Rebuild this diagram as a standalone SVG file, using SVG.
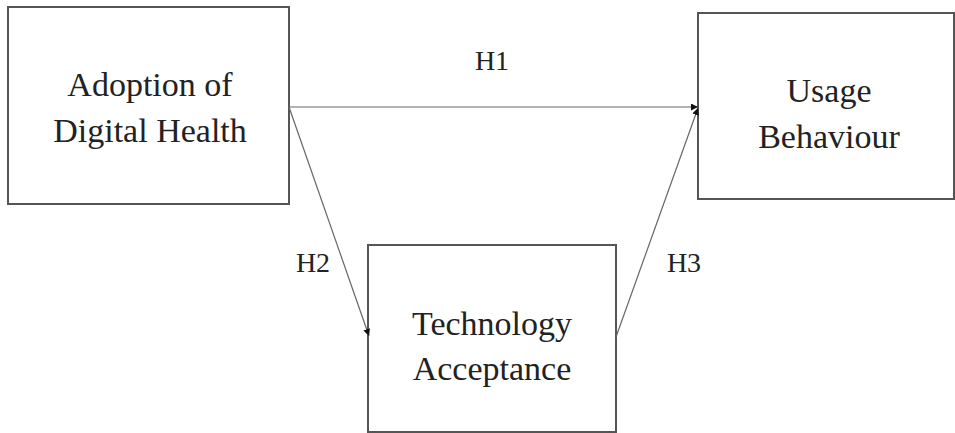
<svg xmlns="http://www.w3.org/2000/svg" width="955" height="433" viewBox="0 0 955 433">
<style>
.box{fill:#fff;stroke:#555;stroke-width:2}
.lbl{font-family:"Liberation Serif","Times New Roman",serif;font-size:34px;fill:#222;text-anchor:middle}
.h{font-family:"Liberation Serif","Times New Roman",serif;font-size:28px;fill:#222;text-anchor:middle}
.c{stroke:#666;stroke-width:1.2;fill:none}
</style>
<defs>
<marker id="ah" viewBox="0 0 10 10" refX="10" refY="5" markerWidth="7" markerHeight="7" orient="auto" markerUnits="userSpaceOnUse">
<path d="M0,0 L10,5 L0,10 z" fill="#111"/>
</marker>
</defs>
<rect width="955" height="433" fill="#fff"/>
<g id="adoption">
<rect class="box" x="8" y="7" width="281" height="197"/>
<text class="lbl" x="150" y="96">Adoption of</text>
<text class="lbl" x="150" y="142">Digital Health</text>
</g>
<g id="usage">
<rect class="box" x="698" y="13" width="256" height="186"/>
<text class="lbl" x="829" y="102">Usage</text>
<text class="lbl" x="829" y="148">Behaviour</text>
</g>
<g id="tech">
<rect class="box" x="368" y="245" width="248" height="187"/>
<text class="lbl" x="492" y="335">Technology</text>
<text class="lbl" x="492" y="380">Acceptance</text>
</g>
<g id="connectors">
<line class="c" x1="289" y1="107" x2="698" y2="107" marker-end="url(#ah)"/>
<line class="c" x1="289" y1="107" x2="369" y2="336" marker-end="url(#ah)"/>
<line class="c" x1="616" y1="337" x2="698" y2="108" marker-end="url(#ah)"/>
<text class="h" x="492" y="70">H1</text>
<text class="h" x="313" y="272">H2</text>
<text class="h" x="684" y="272">H3</text>
</g>
</svg>
